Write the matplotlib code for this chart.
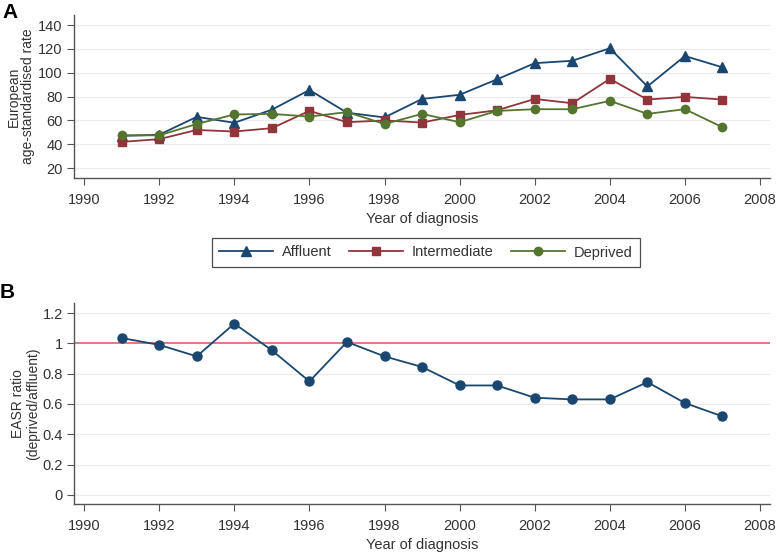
import matplotlib
matplotlib.use("Agg")
import matplotlib.pyplot as plt

plt.rcParams['font.family'] = ['Liberation Sans', 'DejaVu Sans']

years = list(range(1991, 2008))
affluent = [47, 48, 63, 58, 69, 85.5, 66.5, 62.5, 78, 81.5, 94.5, 108, 110, 120.5, 88.5, 114, 104.5]
intermediate = [42, 44.3, 52, 50.7, 53.5, 68, 58.5, 60, 58.2, 64.6, 68.5, 78, 74.4, 94.8, 77.5, 79.7, 77.5]
deprived = [47.5, 47.5, 57, 65, 65.5, 63.2, 67, 57, 65.5, 58.5, 68, 69.4, 69.4, 76.4, 65.5, 69.4, 54.3]
ratio = [1.035, 0.99, 0.914, 1.13, 0.954, 0.749, 1.009, 0.914, 0.844, 0.722, 0.722, 0.641, 0.63, 0.63, 0.744, 0.606, 0.518]

xticks = list(range(1990, 2009, 2))
yticks_a = [20, 40, 60, 80, 100, 120, 140]
yticks_b = [0, 0.2, 0.4, 0.6, 0.8, 1, 1.2]
ytick_labels_b = ['0', '0.2', '0.4', '0.6', '0.8', '1', '1.2']

c_aff = '#1a476f'
c_int = '#90353b'
c_dep = '#55752f'
txt = '#333333'
spine_c = '#555555'
fs = 10.5

fig = plt.figure(figsize=(7.77, 5.55), dpi=100)
axA = fig.add_axes([0.0952, 0.679, 0.896, 0.294])
axB = fig.add_axes([0.0952, 0.092, 0.896, 0.362])

for ax in (axA, axB):
    for s in ('top', 'right'):
        ax.spines[s].set_visible(False)
    for s in ('left', 'bottom'):
        ax.spines[s].set_color(spine_c)
        ax.spines[s].set_linewidth(1.0)
    ax.tick_params(colors=spine_c, labelcolor=txt, labelsize=fs, length=5, width=0.8)
    ax.tick_params(axis='x', pad=5.5)
    ax.tick_params(axis='y', pad=3)
    ax.set_xlim(1989.73, 2008.27)
    ax.set_xticks(xticks)
    ax.grid(axis='y', color='#eaeaea', linewidth=0.8)
    ax.set_axisbelow(True)
    ax.set_xlabel('Year of diagnosis', fontsize=fs, color=txt, labelpad=4)

axA.plot(years, affluent, color=c_aff, marker='^', markersize=6.5, linewidth=1.3, label='Affluent')
axA.plot(years, intermediate, color=c_int, marker='s', markersize=6, linewidth=1.3, label='Intermediate')
axA.plot(years, deprived, color=c_dep, marker='o', markersize=6, linewidth=1.3, label='Deprived')
axA.set_ylim(11.6, 148.4)
axA.set_yticks(yticks_a)
axA.set_ylabel('European\nage-standardised rate', fontsize=10, color=txt, labelpad=2, linespacing=1.05)

axB.axhline(1, color='#e07a80', linewidth=1.4, zorder=1)
axB.plot(years, ratio, color=c_aff, marker='o', markersize=6.5, linewidth=1.3, zorder=3)
axB.set_ylim(-0.06, 1.266)
axB.set_yticks(yticks_b)
axB.set_yticklabels(ytick_labels_b)
axB.set_ylabel('EASR ratio\n(deprived/affluent)', fontsize=10, color=txt, labelpad=2, linespacing=1.05)

handles, labels = axA.get_legend_handles_labels()
leg = fig.legend(handles, labels, loc='center', bbox_to_anchor=(426/777, 1 - 252.5/555),
                 ncol=3, frameon=True, fontsize=fs, fancybox=False, edgecolor='#222222',
                 handlelength=3.7, columnspacing=1.2, borderpad=0.5, handletextpad=0.6)
leg.get_frame().set_linewidth(0.9)
for t in leg.get_texts():
    t.set_color(txt)

fig.text(2/777, 1 - 3/555, 'A', fontsize=15, fontweight='bold', va='top', ha='left')
fig.text(0/777, 1 - 283/555, 'B', fontsize=15, fontweight='bold', va='top', ha='left')

fig.savefig('out.png', dpi=100)
